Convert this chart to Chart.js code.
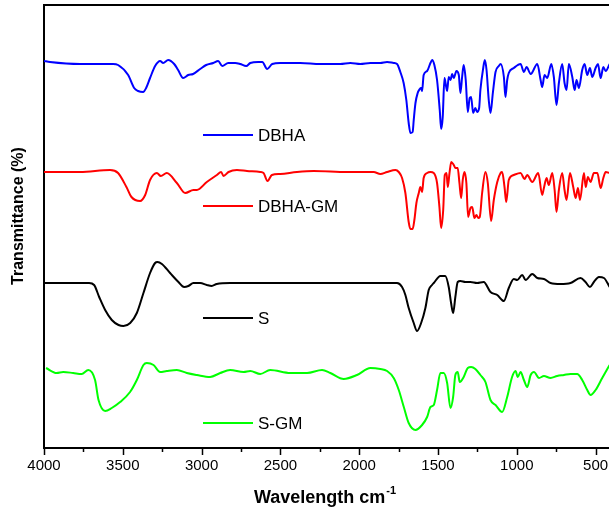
<!DOCTYPE html>
<html>
<head>
<meta charset="utf-8">
<script src="https://cdn.jsdelivr.net/npm/chart.js@4"></script>
<style>
  html, body { margin: 0; padding: 0; background: #fff; overflow: hidden; }
  canvas { display: block; }
</style>
</head>
<body>
<canvas id="ftir" width="609" height="510"></canvas>
<script>
const seriesNames = ["DBHA", "DBHA-GM", "S", "S-GM"];
const seriesColors = ["#0000ff", "#ff0000", "#000000", "#00ff00"];
const xTickLabels = [4000, 3500, 3000, 2500, 2000, 1500, 1000, 500];

const dbhaWn = [4000,3962,3771,3562,3530,3466,3428,3403,3371,3352,3327,3295,3263,3244,3212,3174,3149,3117,3085,3054,3009,2971,2926,2895,2869,2831,2787,2755,2717,2691,2641,2615,2584,2552,2501,2374,2247,2120,2056,1993,1929,1866,1823,1781,1760,1739,1718,1701,1686,1675,1661,1654,1643,1629,1616,1607,1601,1591,1569,1548,1537,1523,1506,1489,1480,1470,1459,1448,1442,1432,1421,1410,1400,1383,1368,1358,1347,1337,1324,1311,1299,1290,1277,1263,1252,1239,1231,1213,1203,1192,1178,1167,1152,1135,1114,1103,1082,1072,1061,1051,1019,976,955,938,912,870,849,839,824,807,781,765,748,733,712,697,684,670,648,633,621,606,585,570,553,536,521,500,485,468,451,436,411];
const dbhaT = [387,386,384,384,383,373,360,357,356,360,370,382,387,385,388,384,378,370,373,374,379,383,385,387,382,385,385,384,382,385,386,386,379,384,385,385,384,384,385,384,385,385,386,385,384,376,365,348,325,315,316,328,345,355,359,360,357,373,377,385,388,383,368,338,319,331,370,361,357,371,368,374,370,377,373,355,371,383,368,336,350,351,335,340,336,340,358,380,388,378,348,335,355,376,382,384,371,351,368,375,380,384,376,381,374,384,368,361,373,370,384,371,343,365,384,365,358,384,371,358,368,360,378,384,373,380,371,380,384,370,381,377,384];

const dbhaGmWn = [4000,3771,3581,3530,3477,3445,3390,3358,3327,3284,3259,3221,3157,3104,3052,3030,2967,2903,2876,2861,2829,2776,2712,2628,2607,2582,2554,2501,2395,2289,2077,1972,1908,1866,1823,1770,1749,1728,1707,1686,1675,1661,1650,1637,1622,1612,1601,1591,1569,1548,1527,1506,1491,1480,1467,1457,1446,1438,1427,1416,1400,1389,1375,1364,1353,1343,1332,1320,1309,1294,1283,1269,1256,1245,1235,1220,1199,1184,1163,1146,1124,1103,1093,1078,1067,1051,1019,976,951,934,902,864,839,828,811,797,775,760,748,733,712,697,684,663,642,627,612,599,574,563,549,532,511,489,468,451,436,411];
const dbhaGmT = [276,276,278,275,261,251,247,253,268,275,272,275,265,255,258,258,266,273,276,272,276,278,277,276,275,267,273,274,276,277,276,276,276,274,276,278,276,270,255,226,219,219,228,245,255,261,256,270,275,276,275,265,241,220,238,273,275,261,275,286,283,280,280,265,250,268,276,265,231,240,241,230,233,230,231,255,276,265,227,248,266,275,276,261,246,268,273,275,269,273,266,275,253,260,270,263,275,258,236,258,275,258,248,275,261,250,260,248,275,261,271,266,275,275,260,270,276,275];

const sWn = [4000,3714,3682,3650,3612,3570,3527,3496,3453,3411,3369,3327,3295,3280,3252,3200,3147,3111,3084,3052,3009,2967,2936,2904,2819,2500,2200,1866,1802,1760,1728,1707,1686,1654,1633,1607,1580,1559,1538,1527,1485,1454,1432,1417,1404,1390,1375,1358,1326,1294,1252,1210,1167,1124,1082,1051,1019,997,966,944,902,870,828,786,723,659,596,564,536,511,479,447,411];
const sT = [165,165,163,151,138,128,123,122,125,135,155,175,185,186,184,175,166,161,162,165,165,163,162,164,165,165,165,165,165,165,161,153,140,125,117,125,140,158,163,165,172,172,161,145,135,151,166,167,166,166,165,166,156,153,147,160,169,168,173,168,174,170,169,165,164,165,170,166,161,166,171,170,161];

const sGmWn = [3987,3920,3878,3815,3761,3719,3676,3654,3612,3570,3517,3454,3411,3369,3348,3305,3263,3221,3157,3094,3030,2946,2882,2819,2734,2691,2628,2565,2437,2331,2236,2183,2098,2014,1929,1866,1823,1781,1749,1717,1686,1643,1601,1569,1548,1527,1506,1485,1464,1442,1421,1404,1390,1375,1362,1337,1311,1290,1263,1231,1199,1167,1135,1093,1061,1030,1008,994,976,955,934,912,891,859,828,786,744,701,659,617,585,553,532,500,458,411];
const sGmT = [80,75,76,75,74,78,68,48,37,40,46,56,68,83,85,83,76,77,78,75,73,71,75,78,76,77,74,78,75,75,78,75,69,73,80,79,77,70,58,41,25,18,23,31,41,43,58,75,75,65,40,51,73,76,66,71,80,81,79,73,66,48,43,36,51,71,77,71,76,68,61,73,76,70,72,70,72,73,74,74,68,58,53,58,70,83];

const allWn = [dbhaWn, dbhaGmWn, sWn, sGmWn];
const allT = [dbhaT, dbhaGmT, sT, sGmT];

// Posicion de la leyenda dentro del grafico (px)
const legendY = [135, 206, 318, 423];

const toPoints = (wn, t) => wn.map((w, i) => ({ x: w, y: t[i] }));

const datasets = seriesNames.map((name, i) => ({
  label: name,
  data: toPoints(allWn[i], allT[i]),
  borderColor: seriesColors[i],
  borderWidth: 2,
  pointRadius: 0,
  cubicInterpolationMode: "monotone",
  fill: false
}));

const fontName = "'Liberation Sans', Arial, sans-serif";

// Dibujo marco, marcas menores, leyenda y titulos
const framePlugin = {
  id: "framePlugin",
  afterDraw(chart) {
    const ctx = chart.ctx;
    const area = chart.chartArea;
    const xs = chart.scales.x;
    ctx.save();
    ctx.strokeStyle = "#000";
    ctx.lineWidth = 2;
    ctx.beginPath();
    ctx.moveTo(area.left - 1, area.top);
    ctx.lineTo(area.right + 2, area.top);
    ctx.stroke();

    // marcas del eje x
    const marks = [];
    xTickLabels.forEach((v, i) => {
      marks.push([v, 7]);
      if (i < xTickLabels.length - 1) marks.push([(v + xTickLabels[i + 1]) / 2, 4]);
    });
    ctx.lineWidth = 1.5;
    marks.forEach(([v, len]) => {
      const px = Math.round(xs.getPixelForValue(v)) + 0.5;
      ctx.beginPath();
      ctx.moveTo(px, area.bottom);
      ctx.lineTo(px, area.bottom + len);
      ctx.stroke();
    });

    // leyenda
    ctx.font = "17px " + fontName;
    ctx.textBaseline = "middle";
    ctx.textAlign = "left";
    chart.data.datasets.forEach((ds, i) => {
      ctx.strokeStyle = ds.borderColor;
      ctx.lineWidth = 2;
      ctx.beginPath();
      ctx.moveTo(203, legendY[i]);
      ctx.lineTo(253, legendY[i]);
      ctx.stroke();
      ctx.fillStyle = "#000";
      ctx.fillText(ds.label, 258, legendY[i] + 1);
    });

    // titulo eje x con superindice
    ctx.fillStyle = "#000";
    ctx.font = "bold 18px " + fontName;
    ctx.textBaseline = "alphabetic";
    const main = "Wavelength cm";
    const wMain = ctx.measureText(main).width;
    ctx.font = "bold 11px " + fontName;
    const wSup = ctx.measureText("-1").width;
    const startX = (area.left + area.right) / 2 - (wMain + wSup) / 2 - 2;
    ctx.font = "bold 18px " + fontName;
    ctx.fillText(main, startX, 503);
    ctx.font = "bold 11px " + fontName;
    ctx.fillText("-1", startX + wMain + 1, 494);

    // titulo eje y
    ctx.font = "bold 16px " + fontName;
    ctx.textAlign = "center";
    ctx.textBaseline = "middle";
    ctx.translate(19, 216);
    ctx.rotate(-Math.PI / 2);
    ctx.fillText("Transmittance (%)", 0, 0);
    ctx.restore();
  }
};

const config = {
  type: "line",
  data: { datasets },
  options: {
    responsive: false,
    animation: false,
    layout: { padding: { top: 5, right: 0, left: 0, bottom: 0 } },
    plugins: { legend: { display: false }, tooltip: { enabled: false } },
    scales: {
      x: {
        type: "linear",
        reverse: true,
        min: 415,
        max: 4000,
        afterBuildTicks: (scale) => {
          scale.ticks = xTickLabels.map((v) => ({ value: v }));
        },
        afterFit: (scale) => {
          scale.height = 62;
          scale.paddingLeft = 0;
          scale.paddingRight = 0;
        },
        grid: { drawOnChartArea: false, drawTicks: false },
        border: { color: "#000", width: 2 },
        ticks: {
          color: "#000",
          font: { family: fontName, size: 15 },
          padding: 9,
          maxRotation: 0,
          autoSkip: false,
          callback: (v) => String(v)
        }
      },
      y: {
        min: 0,
        max: 443,
        afterFit: (scale) => { scale.width = 44; },
        grid: { drawOnChartArea: false, drawTicks: false },
        border: { color: "#000", width: 2 },
        ticks: { display: false }
      }
    }
  },
  plugins: [framePlugin]
};

new Chart(document.getElementById("ftir"), config);
</script>
</body>
</html>
